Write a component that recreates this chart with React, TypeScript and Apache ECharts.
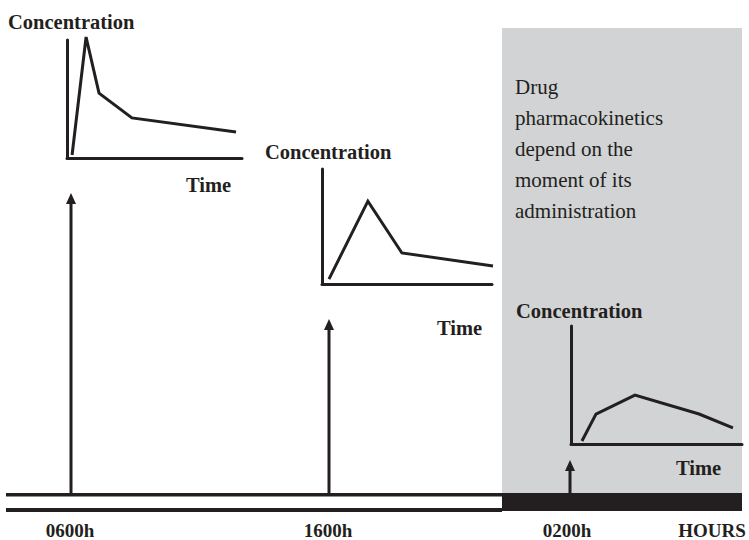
import React, { useEffect, useRef } from "react";
import * as echarts from "echarts";

// ---- data ----
const doseTimes = ["0600h", "1600h", "0200h"];
const axisUnit = "HOURS";
const yTitle = "Concentration";
const xTitle = "Time";
const note = ["Drug", "pharmacokinetics", "depend on the", "moment of its", "administration"];

const morningTime = [2.9, 10.9, 18.3, 37.1, 96.6];
const morningConc = [2.5, 102.5, 55, 34, 22];
const afternoonTime = [4.1, 27, 47, 100.6];
const afternoonConc = [4.3, 72, 27, 15.6];
const nightTime = [6.4, 14.6, 37.4, 74.9, 94.7];
const nightConc = [2.5, 25.4, 41.5, 25.4, 13.6];

const INK = "#231f20";
const FONT = "Liberation Serif";

function zip(a: number[], b: number[]) {
  return a.map((v, i) => [v, b[i]]);
}

export default function App() {
  const ref = useRef<HTMLDivElement>(null);
  useEffect(() => {
    if (!ref.current) return;
    const chart = echarts.init(ref.current, undefined, { renderer: "svg" });

    const grids = [
      { left: 67, top: 40, width: 175, height: 118 },
      { left: 322, top: 169, width: 170, height: 115 },
      { left: 571, top: 326, width: 171, height: 118 },
    ];
    const axisCommon = {
      type: "value",
      min: 0,
      max: 100,
      axisLine: { show: true, lineStyle: { color: INK, width: 3 } },
      axisTick: { show: false },
      axisLabel: { show: false },
      splitLine: { show: false },
    };
    const seriesData = [
      zip(morningTime, morningConc),
      zip(afternoonTime, afternoonConc),
      zip(nightTime, nightConc),
    ];

    const txt = (text: string, x: number, y: number, bold: boolean, size = 20.5, align = "left") => ({
      type: "text",
      x,
      y,
      style: {
        text,
        fill: INK,
        fontFamily: FONT,
        fontSize: size,
        fontWeight: bold ? "bold" : "normal",
        align,
        verticalAlign: "middle",
      },
    });

    const arrow = (x: number, tip: number) => [
      { type: "line", shape: { x1: x, y1: 495, x2: x, y2: tip + 9 }, style: { stroke: INK, lineWidth: 3 } },
      {
        type: "polygon",
        shape: { points: [[x - 5, tip + 11], [x, tip], [x + 5, tip + 11]] },
        style: { fill: INK },
      },
    ];

    const labelX = [70, 328, 567];
    const arrowX = [71, 329, 570];
    const arrowTip = [193, 319, 460];

    const graphics: any[] = [
      { type: "rect", z: -10, shape: { x: 502, y: 28, width: 240, height: 467 }, style: { fill: "#d1d3d4" } },
      { type: "rect", shape: { x: 6, y: 493, width: 736, height: 3.5 }, style: { fill: INK } },
      { type: "rect", shape: { x: 6, y: 508, width: 496, height: 4 }, style: { fill: INK } },
      { type: "rect", shape: { x: 502, y: 494, width: 240, height: 17 }, style: { fill: INK } },
      ...arrowX.flatMap((x, i) => arrow(x, arrowTip[i])),
      ...doseTimes.map((t, i) => txt(t, labelX[i], 530.5, true, 19, "center")),
      txt(axisUnit, 712, 530.5, true, 19, "center"),
      txt(yTitle, 8, 21.5, true),
      txt(yTitle, 265, 152, true),
      txt(yTitle, 516, 311, true),
      txt(xTitle, 186, 185, true),
      txt(xTitle, 437, 328, true),
      txt(xTitle, 676, 468, true),
      ...note.map((line, i) => txt(line, 515, 87 + i * 31, false, 21)),
    ];

    chart.setOption({
      animation: false,
      grid: grids,
      xAxis: grids.map((_, i) => ({ ...axisCommon, gridIndex: i })),
      yAxis: grids.map((_, i) => ({ ...axisCommon, gridIndex: i })),
      series: seriesData.map((d, i) => ({
        type: "line",
        xAxisIndex: i,
        yAxisIndex: i,
        data: d,
        symbol: "none",
        clip: false,
        lineStyle: { color: INK, width: 3, join: "miter" },
      })),
      graphic: graphics,
    });
    return () => chart.dispose();
  }, []);
  return (
    <div
      ref={ref}
      style={{ position: "fixed", left: 0, top: 0, width: 749, height: 540, background: "#fff" }}
    />
  );
}
